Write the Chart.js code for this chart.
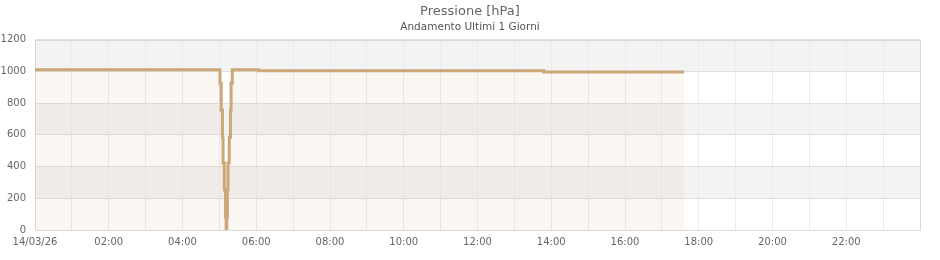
<!DOCTYPE html>
<html><head><meta charset="utf-8">
<script src="https://cdn.jsdelivr.net/npm/chart.js@4.4.1/dist/chart.umd.min.js"></script>
<style>html,body{margin:0;padding:0;background:#fff}#wrap{width:940px;height:260px}</style>
</head><body><div id="wrap"><canvas id="c" width="940" height="260"></canvas></div>
<script>
// ---- data ----
const TITLE = 'Pressione [hPa]';
const SUBTITLE = 'Andamento Ultimi 1 Giorni';
const DATE_LABEL = '14/03/26';
const times = ['00:00','05:01','05:03','05:05','05:06','05:08','05:10','05:11','05:12','05:13','05:14','05:16','05:18','05:19','05:21','06:04','13:48','17:36'];
const pressure = [1010,925,755,585,422,252,82,0,82,252,422,585,755,925,1010,1004,997,997];
const yTicks = [0,200,400,600,800,1000,1200];
const xLabelHours = [0,2,4,6,8,10,12,14,16,18,20,22];
const xTickLabels = [DATE_LABEL,'02:00','04:00','06:00','08:00','10:00','12:00','14:00','16:00','18:00','20:00','22:00'];

const toMin = s => { const [h,m] = s.split(':').map(Number); return h*60+m; };
const points = times.map((t,i) => ({x: toMin(t), y: pressure[i]}));

const bandsPlugin = {
  id: 'bands',
  beforeDraw(chart) {
    const {ctx, chartArea: a, scales: {y}} = chart;
    ctx.save();
    for (let i = yTicks.length - 1; i > 0; i--) {
      const top = y.getPixelForValue(yTicks[i]);
      const bot = y.getPixelForValue(yTicks[i-1]);
      const grey = ((yTicks.length - 1 - i) % 2) === 0;
      ctx.fillStyle = grey ? '#f3f3f4' : '#ffffff';
      ctx.fillRect(a.left, top, a.right - a.left, bot - top);
    }
    ctx.restore();
  },
  beforeDatasetsDraw(chart) {
    const {ctx, chartArea: a} = chart;
    ctx.save();
    ctx.strokeStyle = '#d9d9d9';
    ctx.lineWidth = 1;
    ctx.strokeRect(Math.round(a.left)+0.5, Math.round(a.top)+0.5, Math.round(a.right-a.left), Math.round(a.bottom-a.top));
    ctx.restore();
  }
};

new Chart(document.getElementById('c'), {
  type: 'line',
  data: { datasets: [{
    data: points,
    borderColor: 'rgb(204,167,120)',
    backgroundColor: 'rgba(204,167,120,0.08)',
    borderWidth: 3,
    pointRadius: 0,
    stepped: true,
    fill: 'origin',
    tension: 0
  }]},
  options: {
    responsive: false,
    animation: false,
    devicePixelRatio: 1,
    layout: { padding: { left: 0, right: 0, top: 0, bottom: 0 } },
    plugins: {
      legend: { display: false },
      tooltip: { enabled: false },
      title: { display: true, text: TITLE, color: '#666', font: { family: 'DejaVu Sans', size: 13, weight: 'normal' }, padding: { top: 4, bottom: 1.5 } },
      subtitle: { display: true, text: SUBTITLE, color: '#555', font: { family: 'DejaVu Sans', size: 10.5, weight: 'normal' }, padding: { top: 0, bottom: 6 } }
    },
    scales: {
      x: {
        type: 'linear', min: 0, max: 1440,
        afterBuildTicks(s) { s.ticks = Array.from({length: 25}, (_, i) => ({value: i*60})); },
        afterFit(s) { s.height = 30; },
        grid: { color: '#ebeaf6', drawTicks: false },
        border: { display: false },
        ticks: {
          autoSkip: false, maxRotation: 0, padding: 6, color: '#666',
          font: { family: 'DejaVu Sans', size: 10 },
          callback(v) { const i = xLabelHours.indexOf(v/60); return i >= 0 ? xTickLabels[i] : ''; }
        }
      },
      y: {
        min: 0, max: 1200,
        afterBuildTicks(s) { s.ticks = yTicks.map(v => ({value: v})); },
        afterFit(s) { s.width = 35; },
        grid: { color: '#e0e0e0', drawTicks: false },
        border: { display: false },
        ticks: { padding: 9, color: '#666', font: { family: 'DejaVu Sans', size: 10 }, callback: v => String(v) }
      },
      yR: {
        position: 'right', display: true,
        afterFit(s) { s.width = 20; },
        grid: { display: false, drawOnChartArea: false },
        border: { display: false },
        ticks: { display: false }
      }
    }
  },
  plugins: [bandsPlugin]
});
</script></body></html>
